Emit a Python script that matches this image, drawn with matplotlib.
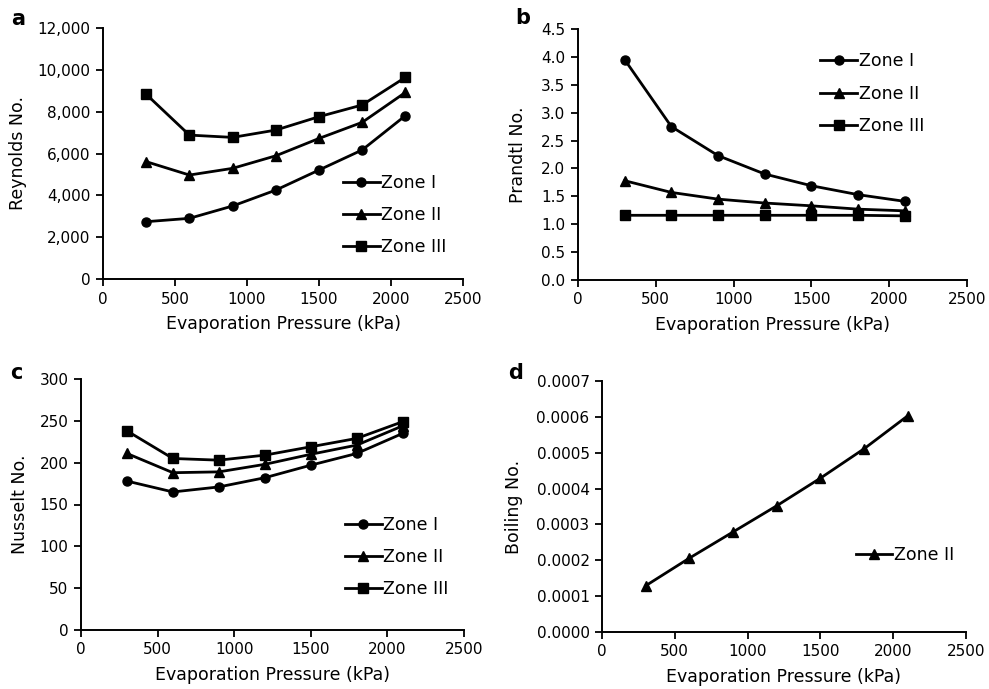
import numpy as np
from matplotlib import pyplot as plt

# pressione de evaporação (kPa)
pressao = [300, 600, 900, 1200, 1500, 1800, 2100]

# a - Reynolds
reynolds_1 = [2740, 2900, 3490, 4250, 5210, 6170, 7810]
reynolds_2 = [5610, 4970, 5290, 5890, 6720, 7490, 8920]
reynolds_3 = [8830, 6880, 6770, 7120, 7760, 8320, 9640]

# b - Prandtl
prandtl_1 = [3.95, 2.75, 2.23, 1.90, 1.69, 1.53, 1.41]
prandtl_2 = [1.78, 1.57, 1.45, 1.38, 1.33, 1.27, 1.24]
prandtl_3 = [1.16, 1.16, 1.16, 1.16, 1.16, 1.16, 1.15]

# c - Nusselt
nusselt_1 = [178, 165, 171, 182, 197, 211, 235]
nusselt_2 = [211, 188, 189, 198, 210, 221, 244]
nusselt_3 = [238, 205, 203, 209, 219, 229, 249]

# d - Boiling (só zona II)
boiling_2 = [0.000129, 0.000206, 0.000279, 0.000352, 0.000429, 0.000511, 0.000603]

zonas = ['Zone I', 'Zone II', 'Zone III']
marcadores = ['o', '^', 's']

W, H = 989, 689
fig = plt.figure(figsize=(W / 100, H / 100), dpi=100)


def eixo_px(x0, x1, y0, y1):
    # converte caixa em pixels (topo/base) para fração da figura
    return fig.add_axes([x0 / W, (H - y1) / H, (x1 - x0) / W, (y1 - y0) / H])


def estilo(ax, ylabel, ymax, passo, fmt, ylab_x):
    for s in ['top', 'right']:
        ax.spines[s].set_visible(False)
    for s in ['left', 'bottom']:
        ax.spines[s].set_linewidth(1.4)
    ax.set_xlim(0, 2500)
    ax.set_xticks(np.arange(0, 2501, 500))
    ax.set_ylim(0, ymax)
    ax.set_yticks(np.arange(0, ymax + passo / 2, passo))
    ax.yaxis.set_major_formatter(plt.FuncFormatter(fmt))
    ax.tick_params(direction='out', length=5, width=1.3, labelsize=11, pad=4)
    ax.set_xlabel('Evaporation Pressure (kPa)', fontsize=12.5)
    ax.set_ylabel(ylabel, fontsize=12.5)
    ax.xaxis.set_label_coords(0.5, -0.145)
    ax.yaxis.set_label_coords(ylab_x, 0.5)


def plotar(ax, series, idx):
    for serie, i in zip(series, idx):
        ax.plot(pressao, serie, color='black', lw=2, marker=marcadores[i],
                ms=6.5 if i < 2 else 7, label=zonas[i], clip_on=False)


leg_kw = dict(frameon=False, fontsize=12.5, handlelength=2.1, handletextpad=0.1,
              labelspacing=0.82, borderpad=0, borderaxespad=0, loc='upper left')

# a
ax_a = eixo_px(103, 463, 28, 279)
plotar(ax_a, [reynolds_1, reynolds_2, reynolds_3], [0, 1, 2])
estilo(ax_a, 'Reynolds No.', 12000, 2000, lambda v, p: f'{int(v):,}', -0.21)
ax_a.legend(bbox_to_anchor=(0.667, 0.42), **leg_kw)

# b
ax_b = eixo_px(578, 967, 29, 280)
plotar(ax_b, [prandtl_1, prandtl_2, prandtl_3], [0, 1, 2])
estilo(ax_b, 'Prandtl No.', 4.5, 0.5, lambda v, p: f'{v:.1f}', -0.131)
ax_b.legend(bbox_to_anchor=(0.623, 0.907), **leg_kw)

# c
ax_c = eixo_px(81, 464, 379, 630)
plotar(ax_c, [nusselt_1, nusselt_2, nusselt_3], [0, 1, 2])
estilo(ax_c, 'Nusselt No.', 300, 50, lambda v, p: f'{int(v)}', -0.137)
ax_c.legend(bbox_to_anchor=(0.69, 0.455), **leg_kw)

# d
ax_d = eixo_px(602, 966, 381, 632)
plotar(ax_d, [boiling_2], [1])
estilo(ax_d, 'Boiling No.', 0.0007, 0.0001, lambda v, p: f'{v:.4f}', -0.217)
ax_d.legend(bbox_to_anchor=(0.697, 0.343), **leg_kw)

# letras dos painéis
for letra, x, y in [('a', 11, 19), ('b', 515, 18), ('c', 10, 373), ('d', 508, 373)]:
    fig.text(x / W, 1 - y / H, letra, fontsize=15, fontweight='bold', va='center')

plt.savefig('out.png', dpi=100)
